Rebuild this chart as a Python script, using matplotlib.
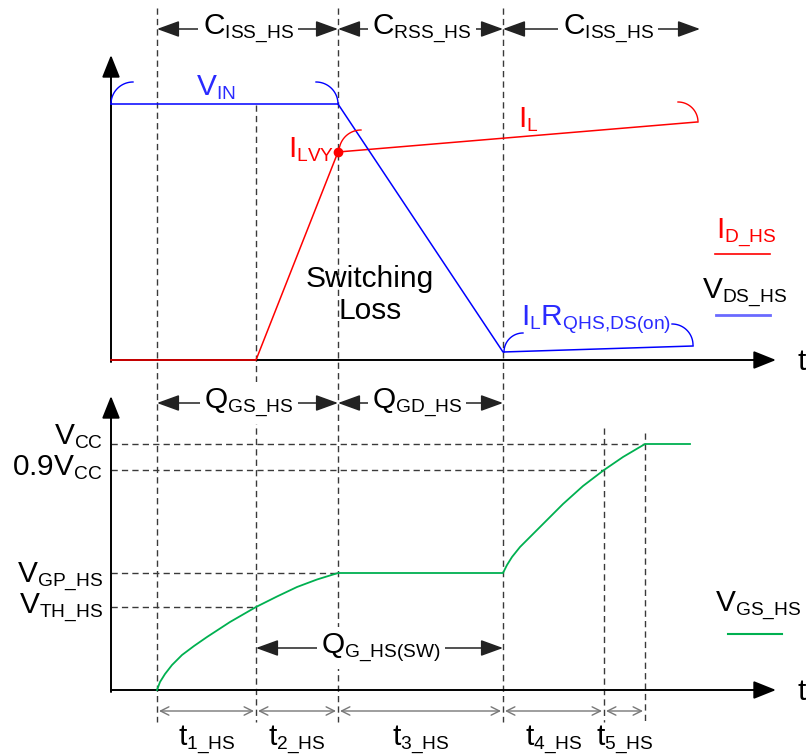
import numpy as np
import matplotlib
matplotlib.use("Agg")
import matplotlib.pyplot as plt
import matplotlib._mathtext as _mt

# slightly smaller subscripts, as in the original drawing
_mt.SHRINK_FACTOR = 0.64

plt.rcParams['font.family'] = ['Liberation Sans', 'DejaVu Sans']
plt.rcParams['mathtext.fontset'] = 'custom'
plt.rcParams['mathtext.rm'] = 'Liberation Sans'
plt.rcParams['mathtext.it'] = 'Liberation Sans'
plt.rcParams['mathtext.bf'] = 'Liberation Sans'

# ---------------- data (diagram coordinates) -------------
# event times (t1..t5 boundaries)
t_marks = [157, 256, 338, 503, 604, 645]
t_mark_tops = [8, 105, 8, 8, 428, 433]
t_mark_bottom = 722

# top panel : drain-source voltage (blue) and drain current (red)
vds_t = [111, 338, 503, 693]
vds_v = [104, 104, 352, 346]
id_t = [111, 256, 338, 697]
id_v = [360, 360, 152, 122]
ilvy_point = (338, 152)

# bottom panel : gate-source voltage (green)
vgs_t = [157, 160, 165, 172, 182, 194, 207, 230, 256, 277, 297, 317, 338,
         503, 507, 512, 520, 530, 543, 563, 583, 604, 623, 645, 690]
vgs_v = [690, 682, 674, 665, 655, 646, 637, 622, 607, 596.5, 587, 579.5, 573,
         573, 565, 557, 547, 537, 524, 504, 486, 470, 457, 444, 444]

level_y = [444, 470, 573, 607]
level_end = [645, 604, 338, 256]
level_labels = [(r'V', 'CC'), (r'0.9V', 'CC'), (r'V', r'GP\_HS'), (r'V', r'TH\_HS')]
level_label_y = [437, 468, 577, 608]

top_spans = [(157, 338, 'C', r'ISS\_HS'), (338, 503, 'C', r'RSS\_HS'), (503, 700, 'C', r'ISS\_HS')]
top_span_centers = [248, 422, 608]
q_spans = [(157, 338, 'Q', r'GS\_HS'), (338, 503, 'Q', r'GD\_HS')]
q_span_centers = [249, 417]
t_labels = [r'1\_HS', r'2\_HS', r'3\_HS', r'4\_HS', r'5\_HS']

# ---------------- styles -------------
BLUE = '#0000ff'
RED = '#ff0000'
GREEN = '#00b050'
DASH = '#3a3a3a'
FS = 21.5


def lab(main, sub):
    return r'$\mathregular{%s_{%s}}$' % (main, sub)


fig = plt.figure(figsize=(8.06, 7.56), dpi=100)
ax = fig.add_axes([0, 0, 1, 1])
ax.set_xlim(0, 806)
ax.set_ylim(756, 0)
ax.axis('off')

# vertical dashed event lines
for x, top in zip(t_marks, t_mark_tops):
    ax.plot([x, x], [top, t_mark_bottom], color=DASH, lw=1.0,
            linestyle=(0, (4.5, 3)), zorder=1)

# horizontal dashed level lines
for y, xe in zip(level_y, level_end):
    ax.plot([111, xe], [y, y], color=DASH, lw=1.0, linestyle=(0, (4.5, 3)), zorder=1)


def axis_arrow(x0, y0, x1, y1):
    ax.annotate('', xy=(x1, y1), xytext=(x0, y0),
                arrowprops=dict(arrowstyle='-|>,head_length=0.55,head_width=0.22',
                                color='black', lw=1.4, mutation_scale=25,
                                shrinkA=0, shrinkB=0), zorder=3)

# axes
axis_arrow(111, 362, 111, 55)
axis_arrow(111, 360, 776, 360)
axis_arrow(111, 692, 111, 396)
axis_arrow(111, 690, 776, 690)
ax.text(797, 362, 't', fontsize=FS, ha='left', va='center')
ax.text(797, 692, 't', fontsize=FS, ha='left', va='center')

# waveforms
ax.plot(id_t, id_v, color=RED, lw=1.1, zorder=4)
ax.plot(vds_t, vds_v, color=BLUE, lw=1.1, zorder=4)
ax.plot(*ilvy_point, 'o', color=RED, ms=6, zorder=5)
ax.plot(vgs_t, vgs_v, color=GREEN, lw=1.3, zorder=4, solid_joinstyle='round')


def arc(cx, cy, r, a0, a1, color):
    th = np.radians(np.linspace(a0, a1, 40))
    ax.plot(cx + r * np.cos(th), cy - r * np.sin(th), color=color, lw=1.0, zorder=4)

# brace arcs
arc(133, 104, 22, 180, 90, BLUE)
arc(316, 104, 22, 90, 0, BLUE)
arc(361, 152, 22, 180, 90, RED)
arc(678, 122, 20, 90, 0, RED)
arc(523, 352, 19, 180, 90, BLUE)
arc(672, 345, 21, 90, 0, BLUE)

# waveform labels
ax.text(216, 88, lab('V', 'IN'), color='#2a2aff', fontsize=FS, ha='center', va='center')
ax.text(334, 150, lab('I', 'LVY'), color=RED, fontsize=FS, ha='right', va='center')
ax.text(528, 120, lab('I', 'L'), color=RED, fontsize=FS, ha='center', va='center')
ax.text(370, 295, 'Switching\nLoss', fontsize=FS, ha='center', va='center', linespacing=1.22)
ax.text(596, 320, r'$\mathregular{I_{L}R_{QHS{,}DS(on)}}$', color='#2a2aff', fontsize=FS,
        ha='center', va='center')

# legend-like labels
ax.text(746, 233, lab('I', r'D\_HS'), color=RED, fontsize=FS, ha='center', va='center')
ax.plot([715, 770], [254, 254], color=RED, lw=1.2)
ax.text(745, 293, lab('V', r'DS\_HS'), color='black', fontsize=FS, ha='center', va='center')
ax.plot([716, 770], [315, 315], color='#6a6aff', lw=2)
ax.text(758, 606, lab('V', r'GS\_HS'), color='black', fontsize=FS, ha='center', va='center')
ax.plot([728, 782], [634, 634], color=GREEN, lw=1.5)

# level labels
for (m, s), y in zip(level_labels, level_label_y):
    ax.text(103, y, lab(m, s), fontsize=FS, ha='right', va='center')


def span_arrow(x0, x1, y, text, xc, color='#222222'):
    ax.annotate('', xy=(x1, y), xytext=(x0, y),
                arrowprops=dict(arrowstyle='<|-|>,head_length=0.55,head_width=0.2',
                                color=color, lw=1.1, mutation_scale=25,
                                shrinkA=0, shrinkB=0), zorder=3)
    ax.text(xc, y, text, fontsize=FS, ha='center', va='center', zorder=6,
            bbox=dict(facecolor='white', edgecolor='none', pad=3))

for (x0, x1, m, s), xc in zip(top_spans, top_span_centers):
    span_arrow(x0, x1, 29, lab(m, s), xc)
for (x0, x1, m, s), xc in zip(q_spans, q_span_centers):
    span_arrow(x0, x1, 403, lab(m, s), xc)
span_arrow(256, 503, 648, lab('Q', r'G\_HS(SW)'), 381)

# time interval arrows
for i, s in enumerate(t_labels):
    x0, x1 = t_marks[i], t_marks[i + 1]
    ax.annotate('', xy=(x1 - 2, 711), xytext=(x0 + 2, 711),
                arrowprops=dict(arrowstyle='<->,head_length=0.3,head_width=0.15',
                                color='#777777', lw=1.0, mutation_scale=20,
                                shrinkA=0, shrinkB=0), zorder=3)
    ax.text((x0 + x1) / 2, 740, lab('t', s), fontsize=FS, ha='center', va='center')

fig.savefig('out.png', dpi=100)
